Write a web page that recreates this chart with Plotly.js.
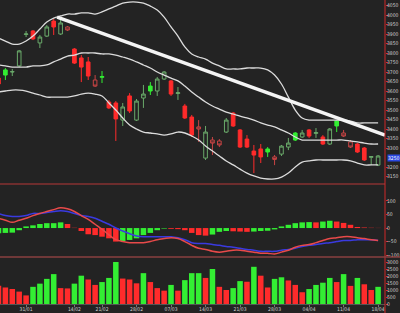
<!DOCTYPE html>
<html>
<head>
<meta charset="utf-8">
<script src="https://cdn.plot.ly/plotly-3.0.1.min.js"></script>
<style>
html,body{margin:0;padding:0;background:#232323;}
#chart{width:400px;height:313px;}
</style>
</head>
<body>
<div id="chart"></div>
<script>
// ---- data ----
const openP  = [3668,3684,3700,3732,3898,3916,3853,3889,3968,3900,3937,3821,3774,3753,3658,3672,3542,3537,3447,3574,3447,3563,3600,3600,3663,3653,3587,3521,3463,3411,3247,3342,3337,3384,3484,3395,3347,3284,3295,3279,3253,3268,3305,3342,3358,3395,3377,3358,3321,3416,3379,3332,3321,3300,3251,3210];
const highP  = [3679,3721,3716,3816,3916,3921,3895,3947,3979,3984,3942,3826,3789,3779,3684,3705,3553,3547,3537,3589,3558,3632,3647,3674,3705,3658,3621,3532,3474,3447,3416,3358,3347,3458,3489,3400,3368,3316,3321,3305,3263,3316,3353,3384,3395,3400,3405,3368,3405,3447,3395,3342,3326,3305,3258,3263];
const lowP   = [3626,3658,3679,3726,3884,3868,3826,3884,3895,3895,3916,3742,3647,3658,3621,3642,3505,3337,3416,3484,3442,3511,3579,3574,3658,3574,3553,3453,3358,3332,3237,3263,3305,3379,3411,3300,3300,3168,3221,3253,3210,3258,3289,3337,3353,3353,3353,3316,3316,3384,3358,3300,3274,3232,3210,3205];
const closeP = [3637,3711,3702,3811,3900,3874,3884,3937,3937,3958,3921,3747,3726,3679,3626,3676,3511,3453,3516,3495,3547,3584,3626,3663,3700,3584,3591,3458,3368,3400,3384,3326,3316,3447,3416,3305,3305,3263,3253,3295,3240,3310,3326,3379,3379,3363,3381,3321,3400,3442,3363,3305,3279,3237,3255,3258];
// candle kind: G hollow green, g solid green, R solid red, r hollow red
const candleKind = ['R','g','G','G','G','R','G','G','R','G','r','R','R','R','r','g','R','R','G','R','G','G','g','G','G','R','G','R','R','r','G','r','r','G','R','R','R','R','R','g','r','G','G','g','G','R','G','R','G','g','r','r','R','R','G','G'];

const bandUpper = [3879,3863,3847,3847,3863,3889,3926,3963,3984,3995,4005,4005,4011,4011,4005,4016,4032,4047,4063,4068,4068,4063,4047,4026,3989,3937,3889,3832,3795,3779,3768,3747,3732,3716,3716,3716,3721,3721,3721,3711,3684,3637,3568,3500,3458,3447,3447,3447,3447,3447,3447,3442,3432,3432,3432,3432];
const bandMiddle = [3737,3732,3726,3726,3726,3732,3732,3737,3753,3768,3784,3789,3800,3800,3800,3795,3795,3789,3779,3768,3753,3737,3721,3700,3684,3668,3653,3626,3595,3568,3542,3521,3505,3489,3479,3468,3458,3447,3432,3421,3411,3395,3379,3358,3342,3342,3342,3342,3342,3342,3342,3337,3332,3326,3321,3321];
const bandLower  = [3595,3600,3605,3605,3600,3589,3579,3568,3568,3568,3568,3574,3584,3589,3584,3574,3537,3500,3458,3421,3400,3384,3379,3374,3368,3374,3384,3379,3363,3342,3311,3284,3258,3232,3211,3189,3168,3153,3142,3137,3137,3147,3168,3200,3226,3232,3237,3237,3237,3237,3237,3232,3221,3211,3211,3211];

const trendX = [8.5, 56];
const trendY = [3989, 3368];

const macdLine   = [36,29,21,29,36,46,54,61,68,75,71,61,46,32,14,-4,-25,-43,-50,-54,-54,-54,-50,-43,-39,-36,-39,-50,-64,-75,-79,-86,-89,-86,-82,-82,-86,-89,-93,-93,-96,-89,-82,-71,-64,-61,-54,-46,-39,-36,-32,-32,-36,-39,-43,-46];
const signalLine = [54,46,43,43,46,54,54,57,61,64,61,54,46,43,36,25,14,0,-11,-21,-29,-32,-32,-32,-32,-32,-36,-43,-54,-57,-57,-61,-64,-68,-71,-75,-79,-82,-86,-86,-86,-82,-79,-75,-68,-64,-61,-57,-54,-50,-46,-46,-43,-43,-43,-46];
const macdHist   = [-19,-18,-17,-8,6,10,15,18,18,21,15,1,-11,-23,-26,-32,-38,-50,-48,-44,-38,-26,-18,-8,-2,-3,-4,-8,-18,-26,-28,-24,-14,-11,-12,-13,-14,-13,-11,-10,-5,6,12,18,21,22,21,24,27,24,19,12,4,2,1,0.5];

const volume = [1295,1180,1070,886,614,1227,1454,1795,2136,1136,1113,1454,2022,1750,1363,1568,1863,3000,1818,1750,1477,2204,1568,1136,954,1363,954,1704,2204,2204,1863,2500,1227,1000,1136,1636,1590,2658,2022,1180,1795,1909,1682,1363,841,1068,1363,1522,1863,1568,2136,1295,1863,1409,1000,1227];
const volumeDir = [-1,-1,-1,-1,-1,1,1,1,1,-1,-1,1,1,-1,-1,1,1,1,-1,-1,-1,1,-1,-1,-1,1,-1,1,1,1,-1,1,-1,-1,1,1,-1,1,-1,-1,1,1,-1,-1,-1,1,1,1,1,-1,1,-1,1,-1,-1,1];

const tickIdx   = [4,11,15,20,25,30,35,40,45,50,55];
const tickText  = ['31/01','14/02','21/02','28/02','07/03','14/03','21/03','28/03','04/04','11/04','18/04'];
const priceTicks = [3150,3200,3300,3350,3400,3450,3500,3550,3600,3650,3700,3750,3800,3850,3900,3950,4000,4050];
const macdTicks  = [-100,-50,0,50,100];
const volTicks   = [0,500,1000,1500,2000,2500,3000];
const lastPriceLabel = '3250';
const lastPriceLevel = 3250;

// ---- build ----
const idx = openP.map((_, i) => i);
const GREEN = '#33ee33', GREEN_H = '#6aaa6a', RED = '#ff2b2b', RED_H = '#c84444';
const kinds = {
  G: {line: GREEN_H, fill: 'rgba(0,0,0,0)'},
  g: {line: GREEN, fill: GREEN},
  R: {line: RED, fill: RED},
  r: {line: RED_H, fill: 'rgba(0,0,0,0)'}
};
const traces = [];
[bandUpper, bandMiddle, bandLower].forEach(b => traces.push({
  type: 'scatter', mode: 'lines', x: idx, y: b, xaxis: 'x', yaxis: 'y',
  line: {color: '#dcdcdc', width: 1.3, shape: 'spline'}, hoverinfo: 'skip'
}));
Object.keys(kinds).forEach(k => {
  const sel = idx.filter(i => candleKind[i] === k);
  const st = {line: {color: kinds[k].line, width: 1}, fillcolor: kinds[k].fill};
  traces.push({
    type: 'candlestick', xaxis: 'x', yaxis: 'y',
    x: sel, open: sel.map(i => openP[i]), high: sel.map(i => highP[i]),
    low: sel.map(i => lowP[i]), close: sel.map(i => closeP[i]),
    increasing: st, decreasing: st, whiskerwidth: 0, hoverinfo: 'skip'
  });
});
traces.push({
  type: 'scatter', mode: 'lines', x: trendX, y: trendY, xaxis: 'x', yaxis: 'y',
  line: {color: '#f4f4f4', width: 3.5}, hoverinfo: 'skip'
});
traces.push({
  type: 'bar', x: idx, y: macdHist, xaxis: 'x', yaxis: 'y2',
  marker: {color: macdHist.map((v, i) => (i === 0 || v >= macdHist[i - 1]) ? GREEN : RED), line: {width: 0}},
  hoverinfo: 'skip'
});
traces.push({type: 'scatter', mode: 'lines', x: idx, y: signalLine, xaxis: 'x', yaxis: 'y2',
  line: {color: '#3a3ae0', width: 1.5, shape: 'spline'}, hoverinfo: 'skip'});
traces.push({type: 'scatter', mode: 'lines', x: idx, y: macdLine, xaxis: 'x', yaxis: 'y2',
  line: {color: '#e84a4a', width: 1.5, shape: 'spline'}, hoverinfo: 'skip'});
traces.push({
  type: 'bar', x: idx, y: volume, xaxis: 'x', yaxis: 'y3',
  marker: {color: volumeDir.map(d => d > 0 ? GREEN : RED), line: {width: 0}},
  hoverinfo: 'skip'
});

const FONT = 'Liberation Sans Narrow, DejaVu Sans Condensed, Arial Narrow, sans-serif';
const tickFont = {family: FONT, size: 5, color: '#d0d0d0'};
const yCommon = {
  side: 'right', anchor: 'x', showgrid: false, zeroline: false,
  ticks: 'outside', ticklen: 2, tickcolor: '#d03030', tickwidth: 1, ticklabelstandoff: -2,
  tickfont: tickFont, fixedrange: true, showline: false, tickmode: 'array'
};
const layout = {
  width: 400, height: 313,
  margin: {l: 0, r: 15, t: 0, b: 9, pad: 0},
  paper_bgcolor: '#232323', plot_bgcolor: '#232323',
  showlegend: false, bargap: 0.2, boxgap: 0.25,
  xaxis: {
    range: [0.22, 56.0], anchor: 'y3', rangeslider: {visible: false},
    showgrid: false, zeroline: false, tickmode: 'array', tickvals: tickIdx, ticktext: tickText,
    ticks: 'outside', ticklen: 2, tickcolor: '#777', ticklabelstandoff: -2,
    tickfont: {family: FONT, size: 5, color: '#d0d0d0'},
    showline: true, linecolor: '#555', linewidth: 1, fixedrange: true
  },
  yaxis: Object.assign({}, yCommon, {domain: [0.3947, 1], range: [3110.5, 4079], tickvals: priceTicks}),
  yaxis2: Object.assign({}, yCommon, {domain: [0.1546, 0.3914], range: [-107, 159], tickvals: macdTicks}),
  yaxis3: Object.assign({}, yCommon, {domain: [0, 0.1513], range: [0, 3286], tickvals: volTicks}),
  shapes: [
    {type: 'line', xref: 'paper', yref: 'paper', x0: 1, x1: 1, y0: -0.03, y1: 1, line: {color: '#d02828', width: 1}},
    {type: 'line', xref: 'paper', yref: 'paper', x0: 0, x1: 1, y0: 0.3947, y1: 0.3947, line: {color: '#b83838', width: 1}},
    {type: 'line', xref: 'paper', yref: 'paper', x0: 0, x1: 1.04, y0: 0.1546, y1: 0.1546, line: {color: '#8a4040', width: 1.5}}
  ],
  annotations: [
    {xref: 'paper', yref: 'y', x: 1.006, y: lastPriceLevel, xanchor: 'left', yanchor: 'middle',
     text: lastPriceLabel, showarrow: false, bgcolor: '#2a48e0', borderpad: 0,
     font: {family: FONT, size: 5, color: '#ffffff'}}
  ]
};
Plotly.newPlot('chart', traces, layout, {staticPlot: true, displayModeBar: false});
</script>
</body>
</html>
